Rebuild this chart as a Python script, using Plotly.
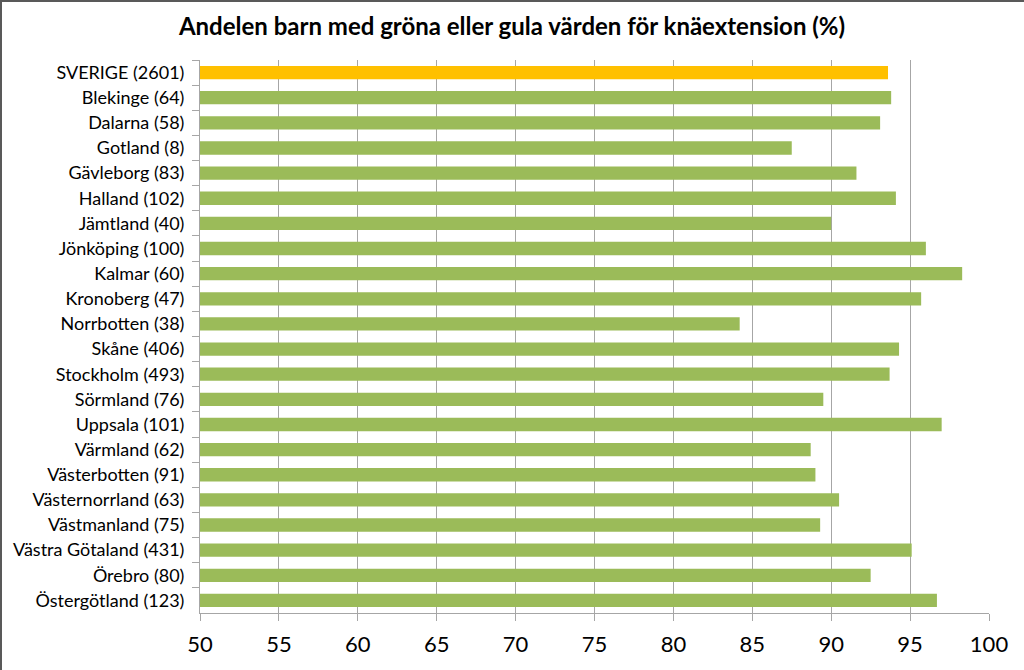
import plotly.graph_objects as go

categories = ["SVERIGE (2601)", "Blekinge (64)", "Dalarna (58)", "Gotland (8)", "Gävleborg (83)",
              "Halland (102)", "Jämtland (40)", "Jönköping (100)", "Kalmar (60)", "Kronoberg (47)",
              "Norrbotten (38)", "Skåne (406)", "Stockholm (493)", "Sörmland (76)", "Uppsala (101)",
              "Värmland (62)", "Västerbotten (91)", "Västernorrland (63)", "Västmanland (75)",
              "Västra Götaland (431)", "Örebro (80)", "Östergötland (123)"]
values = [93.6, 93.8, 93.1, 87.5, 91.6, 94.1, 90.0, 96.0, 98.3, 95.7, 84.2, 94.3, 93.7, 89.5,
          97.0, 88.7, 89.0, 90.5, 89.3, 95.1, 92.5, 96.7]
tick_vals = [50, 55, 60, 65, 70, 75, 80, 85, 90, 95, 100]

colors = ["#FFC000" if c.startswith("SVERIGE") else "#9BBB59" for c in categories]

fig = go.Figure(go.Bar(
    x=values, y=categories, orientation="h",
    marker=dict(color=colors, line=dict(width=0)), width=0.53,
))

W, H = 1024, 670
L, R, T, B = 200, 35, 60, 57
pw, ph = W - L - R, H - T - B

def px_x(p):
    return (p - L) / pw

def px_y(p):
    return (H - B - p) / ph

fig.update_layout(
    width=W, height=H,
    margin=dict(l=L, r=R, t=T, b=B, autoexpand=False),
    paper_bgcolor="white", plot_bgcolor="white",
    showlegend=False,
    font=dict(family="Lato, Calibri, sans-serif", color="#000000"),
    title=dict(text="<b>Andelen barn med gröna eller gula värden för knäextension (%)</b>",
               x=0.5, xref="container", xanchor="center", y=1 - 27 / H, yref="container", yanchor="middle",
               font=dict(size=24, family="Lato, Calibri, sans-serif", color="#000000")),
    xaxis=dict(range=[50, 100], tickvals=tick_vals, showgrid=True, gridcolor="#A6A6A6", gridwidth=1,
               zeroline=False, showline=True, linecolor="#A6A6A6", linewidth=1,
               ticks="outside", ticklen=7, tickcolor="#A6A6A6", automargin=False,
               tickfont=dict(size=22), ticklabelstandoff=5, fixedrange=True),
    yaxis=dict(autorange="reversed", type="category", showline=True, linecolor="#A6A6A6", linewidth=1,
               ticks="outside", ticklen=7, tickcolor="#A6A6A6", tickson="boundaries", automargin=False,
               tickfont=dict(size=18), ticklabelstandoff=11, showgrid=False),
    shapes=[
        dict(type="line", xref="paper", yref="paper", x0=px_x(0), x1=px_x(W), y0=px_y(1), y1=px_y(1),
             line=dict(color="#595959", width=2)),
        dict(type="line", xref="paper", yref="paper", x0=px_x(1), x1=px_x(1), y0=px_y(0), y1=px_y(H),
             line=dict(color="#595959", width=2)),
    ],
)

fig.write_html("out.html")
